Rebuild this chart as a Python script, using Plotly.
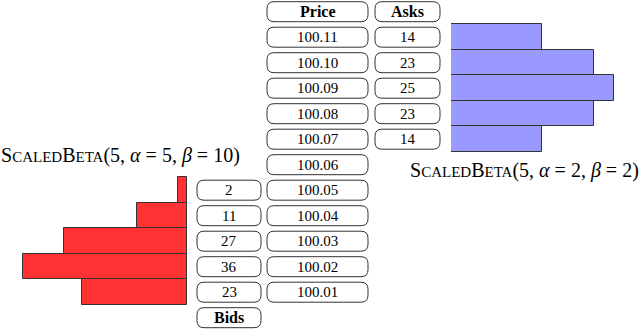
import plotly.graph_objects as go

# ---------------- data ----------------
prices = ["100.11", "100.10", "100.09", "100.08", "100.07", "100.06",
          "100.05", "100.04", "100.03", "100.02", "100.01"]
ask_prices = ["100.11", "100.10", "100.09", "100.08", "100.07"]
ask_sizes = [14, 23, 25, 23, 14]
ask_bar_lengths = [14, 22, 25, 22, 14]
bid_prices = ["100.05", "100.04", "100.03", "100.02", "100.01"]
bid_sizes = [2, 11, 27, 36, 23]
header_price = "Price"
header_asks = "Asks"
header_bids = "Bids"
bid_label = "S<span style='font-size:15px'>CALED</span>B<span style='font-size:15px'>ETA</span>(5, <i>α</i> = 5, <i>β</i> = 10)"
ask_label = "S<span style='font-size:15px'>CALED</span>B<span style='font-size:15px'>ETA</span>(5, <i>α</i> = 2, <i>β</i> = 2)"

# ---------------- layout constants ----------------
W, H = 640, 330
ROW_PX = 25.5
TOP_PX = 11.7
BOX_H = 20
RAD = 7
FONT = "Liberation Serif"
EDGE = "#333333"

row_of = {p: i + 1 for i, p in enumerate(prices)}
header_row = 0
bids_row = len(prices) + 1

COL_BIDS = (197, 261)
COL_PRICE = (267, 368)
COL_ASKS = (375, 440)
BID_BAR_RIGHT = 187
ASK_BAR_LEFT = 451


def px(x):
    return x / W


def rrect(x0p, x1p, row):
    x0, x1 = px(x0p), px(x1p)
    half = BOX_H / 2 / ROW_PX
    y0, y1 = row - half, row + half
    rx, ry = RAD / W, RAD / ROW_PX
    return (f"M {x0+rx},{y0} L {x1-rx},{y0} Q {x1},{y0} {x1},{y0+ry} "
            f"L {x1},{y1-ry} Q {x1},{y1} {x1-rx},{y1} L {x0+rx},{y1} "
            f"Q {x0},{y1} {x0},{y1-ry} L {x0},{y0+ry} Q {x0},{y0} {x0+rx},{y0} Z")


fig = go.Figure()

# bids (red, growing to the left)
fig.add_trace(go.Bar(
    y=[row_of[p] for p in bid_prices], x=bid_sizes, orientation="h",
    width=1, marker=dict(color="#ff3333", line=dict(color=EDGE, width=1)),
    xaxis="x", yaxis="y", hoverinfo="skip", showlegend=False))

# asks (blue, growing to the right)
fig.add_trace(go.Bar(
    y=[row_of[p] for p in ask_prices], x=ask_bar_lengths, orientation="h",
    width=1, marker=dict(color="#9999ff", line=dict(color=EDGE, width=1)),
    xaxis="x2", yaxis="y", hoverinfo="skip", showlegend=False))

shapes = []
annotations = []


def box(col, row, text, bold=False):
    shapes.append(dict(type="path", xref="paper", yref="y",
                       path=rrect(col[0], col[1], row),
                       line=dict(color=EDGE, width=1), fillcolor="white",
                       layer="above"))
    annotations.append(dict(
        xref="paper", yref="y", x=px((col[0] + col[1]) / 2), y=row,
        text=f"<b>{text}</b>" if bold else text, showarrow=False,
        xanchor="center", yanchor="middle",
        font=dict(family=FONT, size=16 if bold else 15, color="black")))


box(COL_PRICE, header_row, header_price, bold=True)
box(COL_ASKS, header_row, header_asks, bold=True)
box(COL_BIDS, bids_row, header_bids, bold=True)
for p in prices:
    box(COL_PRICE, row_of[p], p)
for p, s in zip(ask_prices, ask_sizes):
    box(COL_ASKS, row_of[p], str(s))
for p, s in zip(bid_prices, bid_sizes):
    box(COL_BIDS, row_of[p], str(s))

annotations.append(dict(xref="paper", yref="paper", x=px(120), y=1 - 155 / H,
                        text=bid_label, showarrow=False, xanchor="center",
                        yanchor="middle",
                        font=dict(family=FONT, size=20, color="black")))
annotations.append(dict(xref="paper", yref="paper", x=px(524), y=1 - 170 / H,
                        text=ask_label, showarrow=False, xanchor="center",
                        yanchor="middle",
                        font=dict(family=FONT, size=20, color="black")))

bid_span = max(bid_sizes) * (BID_BAR_RIGHT / 164)
ask_span = max(ask_bar_lengths) * ((W - ASK_BAR_LEFT) / 163)

fig.update_layout(
    width=W, height=H, margin=dict(l=0, r=0, t=0, b=0),
    paper_bgcolor="white", plot_bgcolor="white",
    bargap=0,
    shapes=shapes, annotations=annotations,
    xaxis=dict(domain=[0, px(BID_BAR_RIGHT)], range=[bid_span, 0],
               visible=False, fixedrange=True),
    xaxis2=dict(domain=[px(ASK_BAR_LEFT), 1], range=[0, ask_span],
                visible=False, fixedrange=True, anchor="y"),
    yaxis=dict(range=[(H - TOP_PX) / ROW_PX, -TOP_PX / ROW_PX],
               visible=False, fixedrange=True),
)

fig.write_html("out.html", config={"displayModeBar": False},
               post_script="document.body.style.margin='0';document.body.style.overflow='hidden';")
